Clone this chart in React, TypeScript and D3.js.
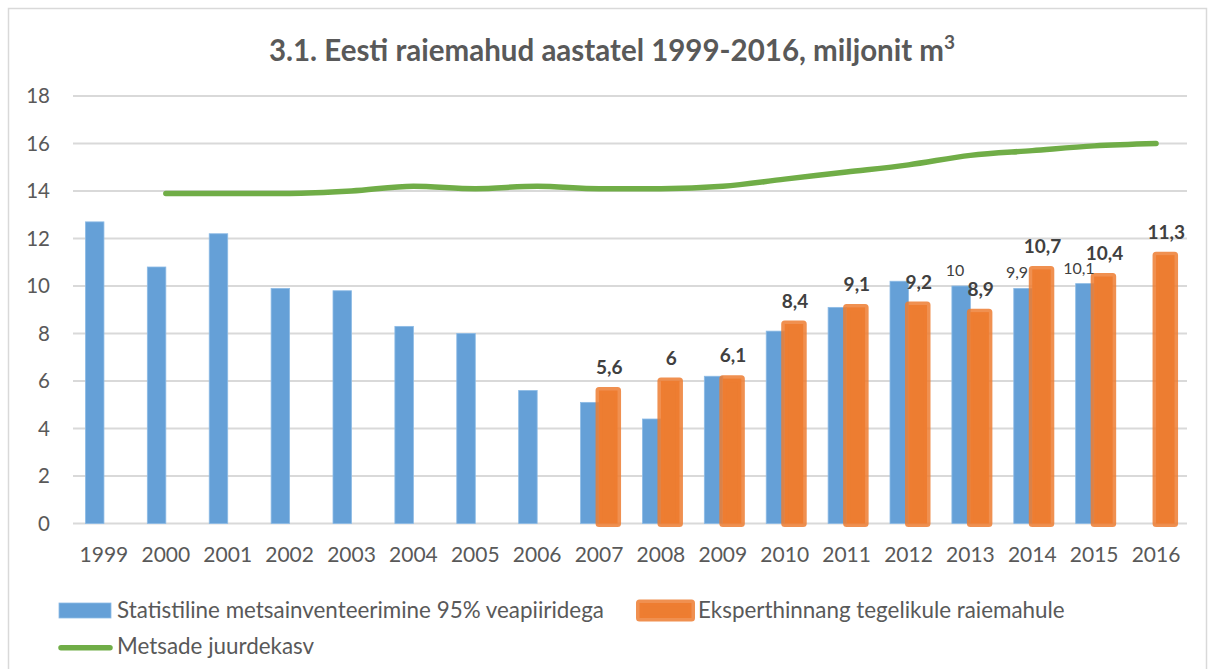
import React from "react";
import * as d3 from "d3";

const years = ["1999","2000","2001","2002","2003","2004","2005","2006","2007","2008","2009","2010","2011","2012","2013","2014","2015","2016"];
const inventoryValues: (number | null)[] = [12.7,10.8,12.2,9.9,9.8,8.3,8.0,5.6,5.1,4.4,6.2,8.1,9.1,10.2,10.0,9.9,10.1,null];
const inventoryLabels: (string | null)[] = [null,null,null,null,null,null,null,null,null,null,null,null,null,null,"10","9,9","10,1",null];
const expertValues: (number | null)[] = [null,null,null,null,null,null,null,null,5.6,6.0,6.1,8.4,9.1,9.2,8.9,10.7,10.4,11.3];
const expertLabels: (string | null)[] = [null,null,null,null,null,null,null,null,"5,6","6","6,1","8,4","9,1","9,2","8,9","10,7","10,4","11,3"];
const growthValues: (number | null)[] = [null,13.9,13.9,13.9,14.0,14.2,14.1,14.2,14.1,14.1,14.2,14.5,14.8,15.1,15.5,15.7,15.9,16.0];
const yTicks = [0,2,4,6,8,10,12,14,16,18];

const title = "3.1. Eesti raiemahud aastatel 1999-2016, miljonit m";
const legendBlue = "Statistiline metsainventeerimine 95% veapiiridega";
const legendOrange = "Eksperthinnang tegelikule raiemahule";
const legendGreen = "Metsade juurdekasv";

const BLUE = "#65A0D7";
const ORANGE = "#ED7D31";
const GREEN = "#70AD47";
const GRID = "#D9D9D9";
const TXT = "#595959";
const LBL = "#404040";
const FONT = "Lato, 'Open Sans', sans-serif";

export default function App() {
  const W = 1214, H = 669;
  const left = 73, right = 1187, top = 96, bottom = 523.5;
  const x = d3.scaleBand<string>().domain(years).range([left, right]).paddingInner(0).paddingOuter(0);
  const y = d3.scaleLinear().domain([0, 18]).range([bottom, top]);
  const bw = x.bandwidth();
  const cx = (yr: string) => (x(yr) as number) + bw / 2;
  const barW = 18.5;

  const linePts = years
    .map((yr, i) => ({ yr, v: growthValues[i] }))
    .filter((d) => d.v !== null) as { yr: string; v: number }[];
  const line = d3
    .line<{ yr: string; v: number }>()
    .x((d) => cx(d.yr))
    .y((d) => y(d.v))
    .curve(d3.curveMonotoneX);

  return (
    <svg width={W} height={H} style={{ position: "absolute", left: 0, top: 0, background: "#fff" }} fontFamily={FONT}>
      <rect x={0} y={0} width={W} height={H} fill="#fff" />
      <path d={`M8.5,${H + 5} V8.5 H1206.5 V${H + 5}`} fill="none" stroke={GRID} strokeWidth={1.5} />
      <text x={612} y={61} textAnchor="middle" fontSize={29.5} fontWeight={700} fill={TXT}>
        {title}
        <tspan fontSize={19} dy={-12}>3</tspan>
      </text>

      {yTicks.map((t) => (
        <g key={t}>
          <line x1={left} x2={right} y1={y(t)} y2={y(t)} stroke={GRID} strokeWidth={1.8} />
          <text x={50} y={y(t)} dy="0.36em" textAnchor="end" fontSize={20.5} fill={TXT}>{t}</text>
        </g>
      ))}

      {years.map((yr, i) => {
        const v = inventoryValues[i];
        if (v === null) return null;
        return (
          <rect key={"b" + yr} x={cx(yr) - barW} y={y(v)} width={barW} height={y(0) - y(v)} fill={BLUE} stroke="#8DBBE5" strokeWidth={0.8} />
        );
      })}

      {years.map((yr, i) => {
        const v = expertValues[i];
        if (v === null) return null;
        return (
          <rect key={"o" + yr} x={cx(yr)} y={y(v)} width={barW} height={y(0) - y(v)} fill={ORANGE} stroke={ORANGE} strokeOpacity={0.85} strokeWidth={7} strokeLinejoin="round" />
        );
      })}

      <path d={line(linePts) || ""} fill="none" stroke={GREEN} strokeWidth={5.5} strokeLinecap="round" strokeLinejoin="round" />

      {years.map((yr, i) => {
        const v = inventoryValues[i];
        const l = inventoryLabels[i];
        if (v === null || l === null) return null;
        return (
          <text key={"bl" + yr} x={cx(yr) - barW / 2 - 6} y={y(v) - 10} textAnchor="middle" fontSize={16} fill={LBL}>{l}</text>
        );
      })}

      {years.map((yr, i) => {
        const v = expertValues[i];
        const l = expertLabels[i];
        if (v === null || l === null) return null;
        return (
          <text key={"ol" + yr} x={cx(yr) + barW / 2 + 1} y={y(v) - 16.5} textAnchor="middle" fontSize={19} fontWeight={700} fill={LBL}>{l}</text>
        );
      })}

      {years.map((yr) => (
        <text key={"x" + yr} x={cx(yr)} y={562} textAnchor="middle" fontSize={21} fill={TXT}>{yr}</text>
      ))}

      <rect x={59} y={603} width={52} height={15} fill={BLUE} stroke="#8DBBE5" strokeWidth={0.8} />
      <text x={117} y={618} fontSize={22.4} fill={TXT}>{legendBlue}</text>
      <rect x={639.5} y={603} width={52} height={15} fill={ORANGE} stroke={ORANGE} strokeOpacity={0.85} strokeWidth={7} strokeLinejoin="round" />
      <text x={698} y={618} fontSize={22.4} fill={TXT}>{legendOrange}</text>
      <line x1={61} x2={110} y1={647.7} y2={647.7} stroke={GREEN} strokeWidth={5.5} strokeLinecap="round" />
      <text x={117} y={654} fontSize={22.4} fill={TXT}>{legendGreen}</text>
    </svg>
  );
}
